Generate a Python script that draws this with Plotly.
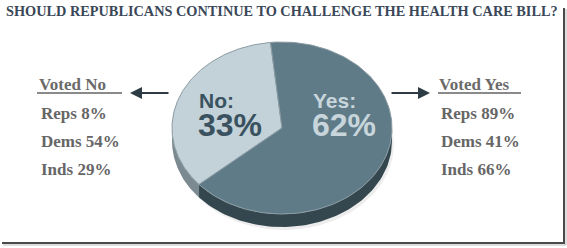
import numpy as np
import plotly.graph_objects as go

# ---- data ----
pie_labels = ["No", "Yes"]
pie_values = [33, 62]
groups = ["Reps", "Dems", "Inds"]
voted_no = [8, 54, 29]
voted_yes = [89, 41, 66]
title_text = "SHOULD REPUBLICANS CONTINUE TO CHALLENGE THE HEALTH CARE BILL?"

# ---- styles ----
W, H = 567, 248
cx, cy, a, b, thick = 282, 128, 110, 86, 13
start_deg = 96
top_colors = ["#c3d1d8", "#5f7b88"]
side_colors = ["#7b8990", "#34474f"]
label_colors = ["#3a5260", "#c8d6dc"]
serif = "Liberation Serif"
sans = "Liberation Sans"

fig = go.Figure()

def ell(t):
    return cx + a * np.cos(t), cy - b * np.sin(t)

total = sum(pie_values)
# shadow
t = np.linspace(0, 2 * np.pi, 200)
sx, sy = ell(t)
fig.add_trace(go.Scatter(x=sx + 2, y=sy + thick + 3, fill="toself", mode="lines",
                         line=dict(width=0), fillcolor="rgba(0,0,0,0.07)", hoverinfo="skip"))

angles = []
cur = start_deg
for v in pie_values:
    angles.append((cur, cur + 360 * v / total))
    cur += 360 * v / total

# side walls (visible lower half: 180..360 deg)
for (s, e), col in zip(angles, side_colors):
    for off in (0, 360):
        lo, hi = max(s, 180 + off), min(e, 360 + off)
        if hi > lo:
            tt = np.radians(np.linspace(lo, hi, 80))
            x, y = ell(tt)
            xs = np.concatenate([x, x[::-1]])
            ys = np.concatenate([y, (y + thick)[::-1]])
            fig.add_trace(go.Scatter(x=xs, y=ys, fill="toself", mode="lines",
                                     line=dict(width=0), fillcolor=col, hoverinfo="skip"))

# top faces
for (s, e), col in zip(angles, top_colors):
    tt = np.radians(np.linspace(s, e, 150))
    x, y = ell(tt)
    xs = np.concatenate([[cx], x, [cx]])
    ys = np.concatenate([[cy], y, [cy]])
    fig.add_trace(go.Scatter(x=xs, y=ys, fill="toself", mode="lines",
                             line=dict(width=1, color="#8b9ba3"), fillcolor=col, hoverinfo="skip"))

fig.update_traces(showlegend=False)

ann = []
# pie labels
label_x = [197, 311]
for lab, val, col, x in zip(pie_labels, pie_values, label_colors, label_x):
    ann.append(dict(x=x, y=100.5, text=f"<b>{lab}:</b>", showarrow=False, xanchor="left",
                    font=dict(family=sans, size=21, color=col)))
    ann.append(dict(x=x - 1, y=124.5, text=f"<b>{val}%</b>", showarrow=False, xanchor="left",
                    font=dict(family=sans, size=32, color=col)))

# title
ann.append(dict(x=282, y=11, text=f"<b>{title_text}</b>", showarrow=False,
                font=dict(family=serif, size=14.3, color="#3a4758")))

# side lists
sides = [("Voted No", voted_no, 37), ("Voted Yes", voted_yes, 437)]
for head, vals, x0 in sides:
    ann.append(dict(x=x0, y=84, text=f"<b>{head}</b>", showarrow=False, xanchor="left",
                    font=dict(family=serif, size=17, color="#6a6a6a")))
    for i, (g, v) in enumerate(zip(groups, vals)):
        ann.append(dict(x=x0 + 2, y=113 + 28 * i, text=f"<b>{g} {v}%</b>", showarrow=False,
                        xanchor="left", font=dict(family=serif, size=17, color="#666666")))

# arrows
for (xh, xt) in [(130, 170), (430, 390)]:
    ann.append(dict(x=xh, y=93, ax=xt, ay=93, axref="x", ayref="y", xref="x", yref="y",
                    showarrow=True, arrowhead=2, arrowsize=1.2, arrowwidth=2,
                    arrowcolor="#2e3d45", text=""))

shapes = [
    dict(type="line", x0=37, x1=122, y0=93, y1=93, line=dict(color="#8a8a8a", width=2)),
    dict(type="line", x0=438, x1=521, y0=93, y1=93, line=dict(color="#8a8a8a", width=2)),
    dict(type="line", x0=564, x1=564, y0=8, y1=243, line=dict(color="#4a4a4a", width=2)),
    dict(type="line", x0=2, x1=565, y0=243, y1=243, line=dict(color="#4a4a4a", width=2)),
    dict(type="line", x0=566, x1=566, y0=9, y1=245, line=dict(color="#bbbbbb", width=1)),
    dict(type="line", x0=3, x1=566, y0=245, y1=245, line=dict(color="#bbbbbb", width=1)),
]

fig.update_layout(
    width=W, height=H, autosize=False,
    margin=dict(l=0, r=0, t=0, b=0),
    paper_bgcolor="white", plot_bgcolor="white",
    xaxis=dict(range=[0, W], visible=False, fixedrange=True),
    yaxis=dict(range=[H, 0], visible=False, fixedrange=True),
    annotations=ann, shapes=shapes,
)

fig.write_html("out.html")
